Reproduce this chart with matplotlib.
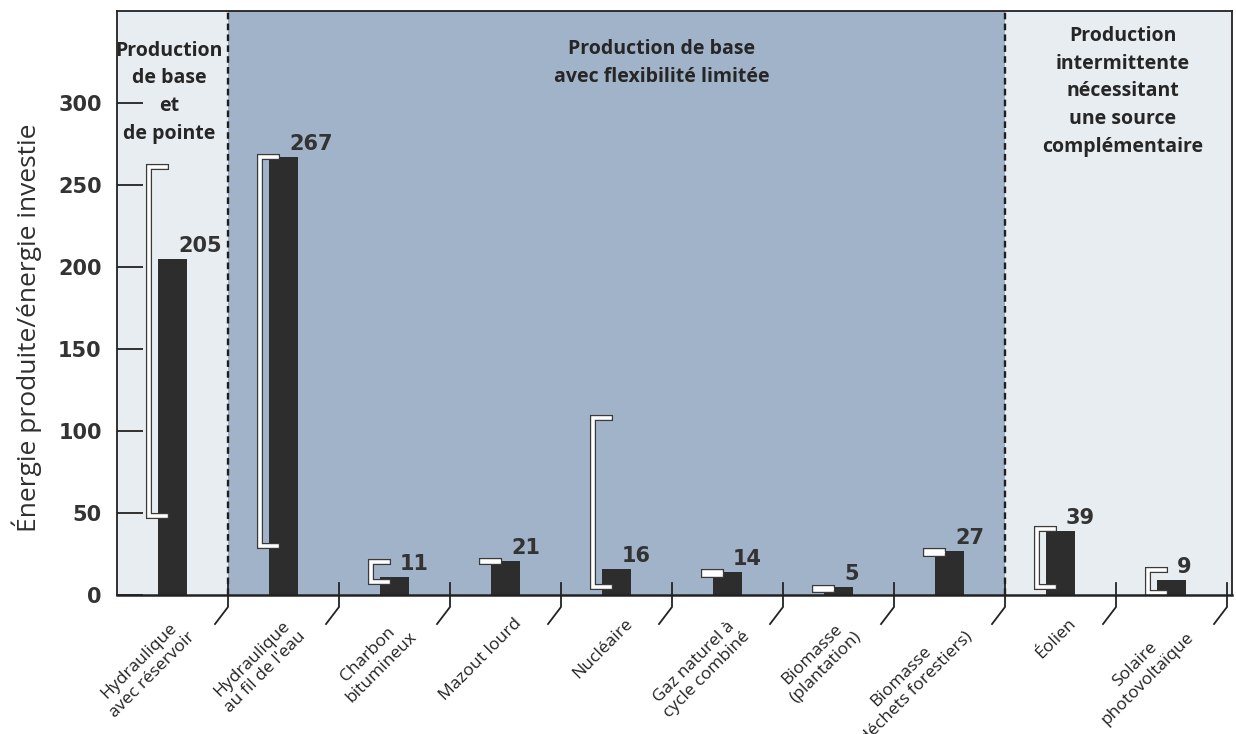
import matplotlib
matplotlib.use('Agg')
import matplotlib.pyplot as plt
import matplotlib.patheffects as pe

# Data
categories = ['Hydraulique\navec réservoir', 'Hydraulique\nau fil de l\'eau', 'Charbon\nbitumineux',
              'Mazout lourd', 'Nucléaire', 'Gaz naturel à\ncycle combiné', 'Biomasse\n(plantation)',
              'Biomasse\n(déchets forestiers)', 'Éolien', 'Solaire\nphotovoltaïque']
values = [205, 267, 11, 21, 16, 14, 5, 27, 39, 9]
range_low = [48, 30, 8, 20, 5, 12, 3, 25, 5, 1]
range_high = [261, 267, 20, 21, 108, 14, 4, 27, 40, 15]

region_titles = ['Production\nde base\net\nde pointe',
                 'Production de base\navec flexibilité limitée',
                 'Production\nintermittente\nnécessitant\nune source\ncomplémentaire']
region_bounds = [(-0.5, 0.5), (0.5, 7.5), (7.5, 10)]
region_colors = ['#e8edf1', '#a0b3c9', '#e8edf1']
region_title_x = [-0.03, 4.41, 8.56]
region_title_y = [338, 339, 347]

yticks = [0, 50, 100, 150, 200, 250, 300]

dark = '#2d2d2d'

fig = plt.figure(figsize=(12.36, 7.34), dpi=100)
ax = fig.add_axes([117 / 1236, 1 - 595 / 734, (1232 - 117) / 1236, (595 - 11) / 734])
ax.set_xlim(-0.5, 9.545)
ax.set_ylim(0, 356)

# background regions + dashed separators
for (x0, x1), c in zip(region_bounds, region_colors):
    ax.axvspan(x0, x1, color=c, zorder=0, lw=0)
for x0, x1 in region_bounds[1:]:
    ax.axvline(x0, color='#1e1e1e', lw=1.7, linestyle=(0, (2.8, 1.8)), zorder=1)

for t, tx, ty in zip(region_titles, region_title_x, region_title_y):
    ax.text(tx, ty, t, ha='center', va='top', fontsize=14, fontweight='bold',
            family='Open Sans', color='#262626', linespacing=1.52, zorder=5)

# bars
x = range(len(categories))
ax.bar(x, values, width=0.27, color=dark, zorder=3)

# min-max range brackets (white with dark outline)
for i, lo, hi in zip(x, range_low, range_high):
    xv, xa = i - 0.21, i - 0.055
    ax.plot([xa, xv, xv, xa], [hi, hi, lo, lo], color='white', lw=2.6,
            solid_joinstyle='miter', solid_capstyle='projecting', zorder=4,
            path_effects=[pe.withStroke(linewidth=4.4, foreground='#3a3a3a')])

# value labels
for i, v in zip(x, values):
    ax.annotate(str(v), (i, v), xytext=(4, 2), textcoords='offset points',
                ha='left', va='bottom', fontsize=15, fontweight='bold',
                family='DejaVu Sans', color='#333333', zorder=6)

# category separators with the slanted foot below the axis
for k in range(len(categories)):
    b = k + 0.5
    ax.plot([b, b, b - 0.117], [7.3, -7.3, -17.7], color='#222222', lw=1.3,
            clip_on=False, zorder=6)

# category labels
for i, lab in zip(x, categories):
    dx = 0.07 if '\n' not in lab else 0.01
    ax.text(i + dx, -0.035, lab, transform=ax.get_xaxis_transform(), rotation=45,
            rotation_mode='anchor', ha='right', va='top', multialignment='center',
            fontsize=12.5, family='Open Sans', color='#222222', linespacing=1.25)

ax.set_xticks([])
ax.set_yticks(yticks)
ax.set_yticklabels([str(t) for t in yticks], fontsize=15, fontweight='bold',
                   family='DejaVu Sans', color='#333333')
ax.tick_params(axis='y', direction='in', length=19, width=1.3, pad=11, color='#222222')

for s in ax.spines.values():
    s.set_color('#222222')
    s.set_linewidth(1.3)
    s.set_zorder(7)
ax.spines['bottom'].set_linewidth(1.8)

fig.text(27 / 1236, 1 - 328 / 734, 'Énergie produite/énergie investie', rotation=90,
         ha='center', va='center', fontsize=19, family='Open Sans', color='#2f2f2f')

fig.savefig('out.png', dpi=100, facecolor='white')
